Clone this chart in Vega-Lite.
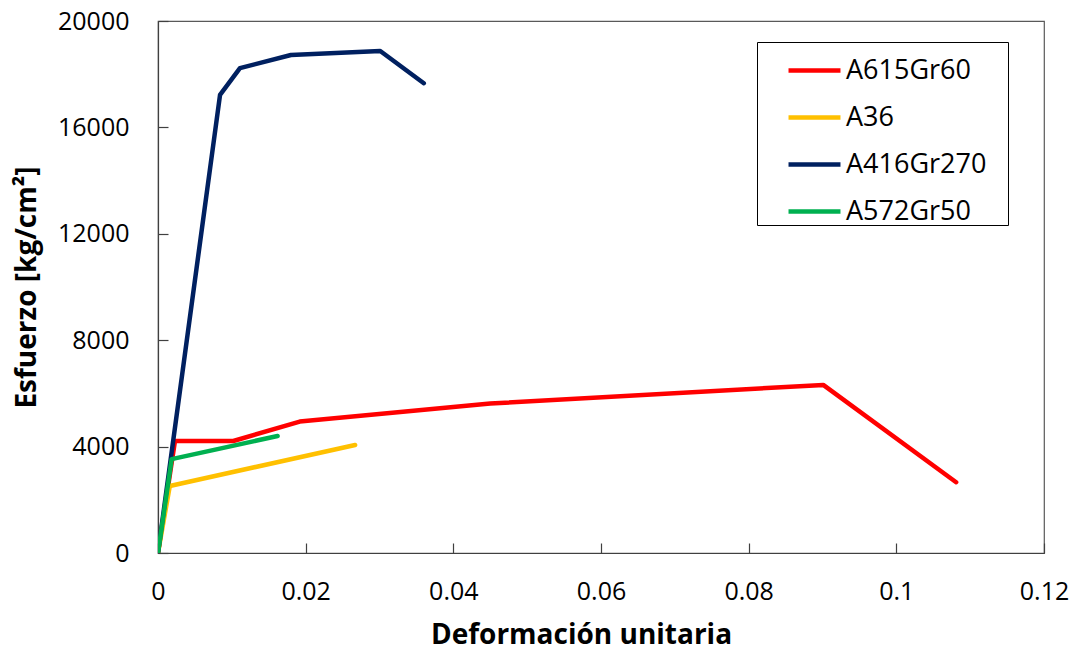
{
  "$schema": "https://vega.github.io/schema/vega-lite/v6.json",
  "autosize": "none",
  "width": 886,
  "height": 532,
  "padding": {"left": 158, "top": 21, "right": 34, "bottom": 97},
  "background": "white",
  "config": {
    "font": "Open Sans",
    "view": {"stroke": "#595959", "strokeWidth": 1.2},
    "axis": {
      "domainColor": "#404040",
      "domainWidth": 1.2,
      "tickColor": "#404040",
      "tickWidth": 1.2,
      "tickSize": -10,
      "grid": false,
      "labelFont": "Open Sans",
      "labelFontSize": 25,
      "labelColor": "#000000",
      "labelFlush": false,
      "labelOverlap": false,
      "titleFont": "Open Sans",
      "titleFontSize": 28,
      "titleFontWeight": "bold",
      "titleColor": "#000000"
    }
  },
  "data": {
    "values": [
      {"serie": "A615Gr60", "o": 0, "def": 0, "esf": 0},
      {"serie": "A615Gr60", "o": 1, "def": 0.0023, "esf": 4210},
      {"serie": "A615Gr60", "o": 2, "def": 0.0102, "esf": 4210},
      {"serie": "A615Gr60", "o": 3, "def": 0.0192, "esf": 4940},
      {"serie": "A615Gr60", "o": 4, "def": 0.045, "esf": 5620},
      {"serie": "A615Gr60", "o": 5, "def": 0.0901, "esf": 6320},
      {"serie": "A615Gr60", "o": 6, "def": 0.1081, "esf": 2660},
      {"serie": "A36", "o": 0, "def": 0, "esf": 0},
      {"serie": "A36", "o": 1, "def": 0.0016, "esf": 2520},
      {"serie": "A36", "o": 2, "def": 0.0267, "esf": 4060},
      {"serie": "A416Gr270", "o": 0, "def": 0, "esf": 0},
      {"serie": "A416Gr270", "o": 1, "def": 0.0084, "esf": 17220},
      {"serie": "A416Gr270", "o": 2, "def": 0.0111, "esf": 18230},
      {"serie": "A416Gr270", "o": 3, "def": 0.018, "esf": 18720},
      {"serie": "A416Gr270", "o": 4, "def": 0.0301, "esf": 18870},
      {"serie": "A416Gr270", "o": 5, "def": 0.036, "esf": 17660},
      {"serie": "A572Gr50", "o": 0, "def": 0, "esf": 0},
      {"serie": "A572Gr50", "o": 1, "def": 0.00185, "esf": 3530},
      {"serie": "A572Gr50", "o": 2, "def": 0.0162, "esf": 4400}
    ]
  },
  "mark": {"type": "line", "strokeWidth": 4.5, "strokeCap": "round", "strokeJoin": "round", "clip": true},
  "encoding": {
    "x": {
      "field": "def",
      "type": "quantitative",
      "scale": {"domain": [0, 0.12], "nice": false, "zero": false},
      "axis": {
        "title": "Deformación unitaria",
        "values": [0, 0.02, 0.04, 0.06, 0.08, 0.1, 0.12],
        "format": ".2~f",
        "labelPadding": 36,
        "titleX": 423,
        "titleY": 90,
        "titleAlign": "center",
        "titleBaseline": "alphabetic"
      }
    },
    "y": {
      "field": "esf",
      "type": "quantitative",
      "scale": {"domain": [0, 20000], "nice": false},
      "axis": {
        "title": "Esfuerzo [kg/cm²]",
        "values": [0, 4000, 8000, 12000, 16000, 20000],
        "format": "d",
        "labelPadding": 39,
        "titleX": -131,
        "titleBaseline": "middle"
      }
    },
    "color": {
      "field": "serie",
      "type": "nominal",
      "sort": ["A615Gr60", "A36", "A416Gr270", "A572Gr50"],
      "scale": {
        "domain": ["A615Gr60", "A36", "A416Gr270", "A572Gr50"],
        "range": ["#FF0000", "#FFC000", "#002060", "#00B050"]
      },
      "legend": {
        "title": "\u00a0",
        "titleOrient": "right",
        "titlePadding": 22,
        "titleFontSize": 12,
        "orient": "none",
        "legendX": 599,
        "legendY": 21,
        "strokeColor": "#000000",
        "fillColor": "white",
        "padding": 0,
        "symbolOffset": 29,
        "symbolType": "stroke",
        "symbolSize": 2700,
        "symbolStrokeWidth": 4.5,
        "labelFont": "Open Sans",
        "labelFontSize": 27,
        "labelColor": "#000000",
        "labelOffset": 3,
        "rowPadding": 5
      }
    },
    "order": {"field": "o", "type": "quantitative"}
  }
}
